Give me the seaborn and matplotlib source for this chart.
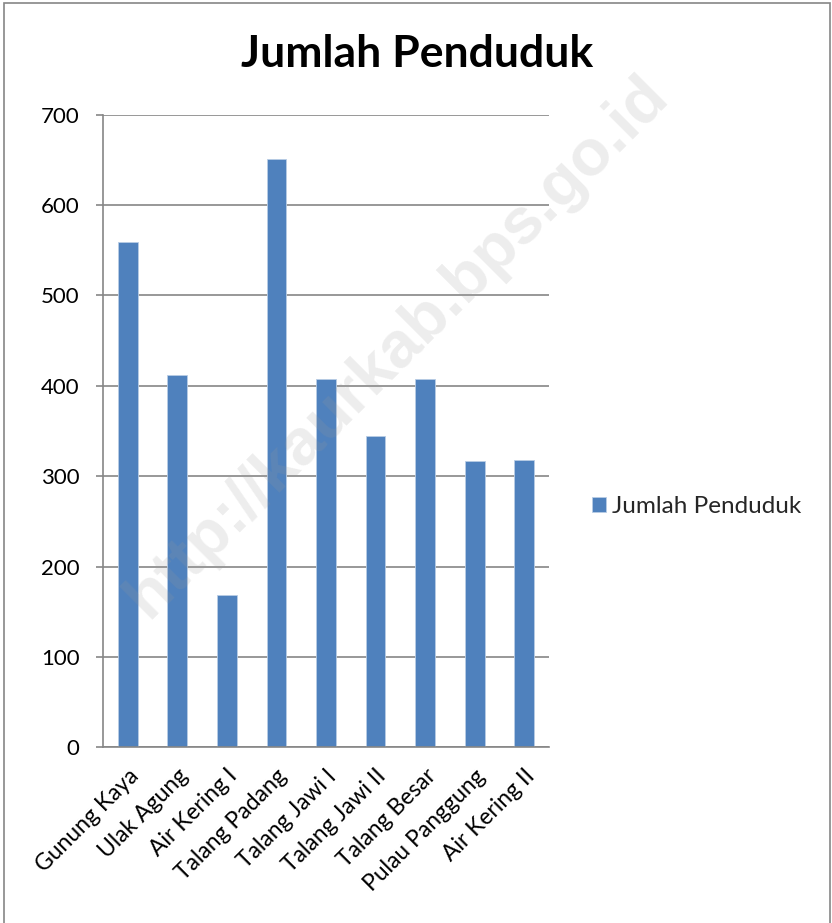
import matplotlib
matplotlib.use("Agg")
import matplotlib.pyplot as plt
import seaborn as sns
import pandas as pd
from matplotlib.patches import Rectangle
from matplotlib.ticker import FixedLocator

# data
villages = [
    "Gunung Kaya", "Ulak Agung", "Air Kering I", "Talang Padang", "Talang Jawi I",
    "Talang Jawi II", "Talang Besar", "Pulau Panggung", "Air Kering II",
]
population = [559, 412, 169, 651, 408, 344, 407, 317, 318]
y_ticks = [0, 100, 200, 300, 400, 500, 600, 700]

series_name = "Jumlah Penduduk"
bar_color = "#4F81BD"
grid_color = "#868686"


def main() -> None:
    sns.set_theme(style="white")
    plt.rcParams["font.family"] = ["Lato", "DejaVu Sans"]

    df = pd.DataFrame({"desa": villages, "jumlah": population})

    fig = plt.figure(figsize=(8.32, 9.23), dpi=100)
    ax = fig.add_axes([0.1238, 0.1904, 0.536, 0.6854])

    sns.barplot(
        data=df, x="desa", y="jumlah", color=bar_color, width=0.4,
        saturation=1, edgecolor="#B9CDE5", linewidth=0.6,
        label=series_name, legend=False, ax=ax,
    )
    if ax.get_legend() is not None:
        ax.get_legend().remove()

    ax.set_xlim(-0.5, len(villages) - 0.5)
    ax.set_ylim(0, 700)
    ax.set_yticks(y_ticks)
    ax.set_yticklabels([str(v) for v in y_ticks], fontsize=16, color="black")
    ax.yaxis.grid(True, color=grid_color, linewidth=1.2)
    ax.set_axisbelow(True)

    # category boundary ticks (Excel style), labels on minor ticks
    ax.xaxis.set_major_locator(FixedLocator([i - 0.5 for i in range(len(villages) + 1)]))
    ax.xaxis.set_minor_locator(FixedLocator(list(range(len(villages)))))
    ax.set_xticklabels([], minor=False)
    ax.set_xticklabels(villages, minor=True, rotation=45, ha="right",
                       rotation_mode="anchor", fontsize=16.5, color="black")
    ax.tick_params(axis="x", which="major", length=5, width=1.2, color=grid_color, direction="out")
    ax.tick_params(axis="x", which="minor", length=0, pad=13)
    ax.tick_params(axis="y", length=5, width=1.2, color=grid_color, direction="out", pad=12,
                   left=True)

    ax.set_xlabel("")
    ax.set_ylabel("")
    for side in ["top", "right"]:
        ax.spines[side].set_visible(False)
    for side in ["left", "bottom"]:
        ax.spines[side].set_color(grid_color)
        ax.spines[side].set_linewidth(1.2)

    fig.text(0.501, 0.941, series_name, ha="center", va="center",
             fontsize=32, fontweight="bold", color="black")

    handles, labels = ax.get_legend_handles_labels()
    fig.legend(handles, labels, loc="center left", bbox_to_anchor=(0.711, 0.451),
               frameon=False, fontsize=17.5, handlelength=0.6, handleheight=0.6,
               handletextpad=0.25, borderpad=0, borderaxespad=0)

    # watermark
    fig.text(0.477, 0.624, "http://kaurkab.bps.go.id", rotation=45,
             ha="center", va="center", fontsize=47, fontweight="bold",
             family="Liberation Sans", color="#9A9A9A", alpha=0.18, zorder=10)

    # outer chart border
    fig.patches.append(Rectangle((0.005, -0.01), 0.993, 1.0067, transform=fig.transFigure,
                                 fill=False, edgecolor=grid_color, linewidth=1.2))

    fig.savefig("out.png", dpi=100)


if __name__ == "__main__":
    main()
